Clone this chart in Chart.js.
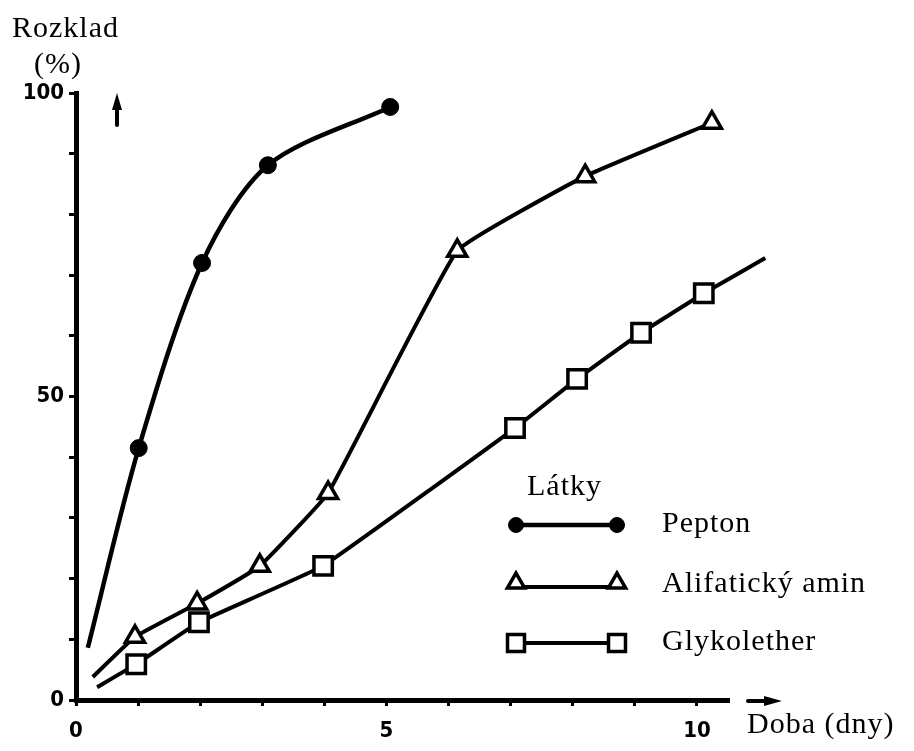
<!DOCTYPE html>
<html>
<head>
<meta charset="utf-8">
<script src="https://cdn.jsdelivr.net/npm/chart.js@4/dist/chart.umd.min.js"></script>
<style>
  html, body { margin: 0; padding: 0; background: #fff; }
  #wrap { position: relative; width: 914px; height: 751px; }
  .t {
    position: absolute;
    font-family: "Liberation Serif", "Times New Roman", serif;
    font-size: 30px;
    line-height: 30px;
    letter-spacing: 1px;
    color: #000;
    white-space: nowrap;
  }
</style>
</head>
<body>
<div id="wrap">
  <canvas id="chart" width="914" height="751"></canvas>
  <div class="t" id="yTitle1" style="left:12px; top:12px;"></div>
  <div class="t" id="yTitle2" style="left:34px; top:48px;"></div>
  <div class="t" id="xTitle" style="left:747px; top:708px;"></div>
  <div class="t" id="legTitle" style="left:527px; top:470px;"></div>
  <div class="t" id="leg0" style="left:662px; top:507px;"></div>
  <div class="t" id="leg1" style="left:662px; top:567px;"></div>
  <div class="t" id="leg2" style="left:662px; top:625px;"></div>
</div>
<script>
// values (x = days, y = % decomposed)
const peptonX = [0.19, 1.01, 2.03, 3.09, 5.06];
const peptonY = [8.6, 41.5, 72.0, 88.1, 97.7];
const aminX = [0.27, 0.95, 1.95, 2.96, 4.06, 6.14, 8.2, 10.24];
const aminY = [3.8, 10.4, 15.9, 22.1, 34.1, 74.0, 86.3, 95.1];
const glykoX = [0.34, 0.97, 1.98, 3.98, 7.07, 8.07, 9.1, 10.11, 11.1];
const glykoY = [2.1, 5.9, 12.8, 22.1, 44.8, 52.9, 60.5, 67.0, 72.8];

const seriesNames = ['Pepton', 'Alifatický amin', 'Glykolether'];
const xTicks = [0, 1, 2, 3, 4, 5, 6, 7, 8, 9, 10];
const xLabelled = [0, 5, 10];
const yTicks = [0, 10, 20, 30, 40, 50, 60, 70, 80, 90, 100];
const yLabelled = [0, 50, 100];

const yTitle = ['Rozklad', '(%)'];
const xTitle = 'Doba (dny)';
const legendTitle = 'Látky';

document.getElementById('yTitle1').textContent = yTitle[0];
document.getElementById('yTitle2').textContent = yTitle[1];
document.getElementById('xTitle').textContent = xTitle;
document.getElementById('legTitle').textContent = legendTitle;
seriesNames.forEach((n, i) => { document.getElementById('leg' + i).textContent = n; });

const toPoints = (xs, ys) => xs.map((x, i) => ({ x: x, y: ys[i] }));
const tickFont = { family: '"DejaVu Sans Condensed", "DejaVu Sans", sans-serif', size: 22, weight: 'bold' };

// legend markers
function marker(ctx, ds, x, y) {
  ctx.save();
  ctx.fillStyle = ds.pointBackgroundColor;
  ctx.strokeStyle = '#000';
  ctx.lineWidth = ds.pointBorderWidth;
  const r = ds.legendRadius;
  ctx.beginPath();
  if (ds.pointStyle === 'circle') {
    ctx.arc(x, y, r, 0, Math.PI * 2);
  } else if (ds.pointStyle === 'triangle') {
    for (let k = 0; k < 3; k++) {
      const a = k * 2 * Math.PI / 3;
      const px = x + Math.sin(a) * r, py = y - Math.cos(a) * r;
      if (k === 0) ctx.moveTo(px, py); else ctx.lineTo(px, py);
    }
    ctx.closePath();
  } else {
    const h = r * Math.SQRT1_2;
    ctx.rect(x - h, y - h, 2 * h, 2 * h);
  }
  ctx.fill();
  ctx.stroke();
  ctx.restore();
}

const decorations = {
  id: 'decorations',
  afterDraw(chart) {
    const ctx = chart.ctx;
    ctx.save();
    ctx.fillStyle = '#000';

    // legend symbols
    const rows = [525, 583, 643];
    chart.data.datasets.forEach((ds, i) => {
      const y = rows[i];
      const ly = y + (ds.pointStyle === 'triangle' ? 4 : 0);
      ctx.save();
      ctx.strokeStyle = '#000';
      ctx.lineWidth = ds.borderWidth;
      ctx.beginPath();
      ctx.moveTo(516, ly);
      ctx.lineTo(617, ly);
      ctx.stroke();
      ctx.restore();
      marker(ctx, ds, 516, y);
      marker(ctx, ds, 617, y);
    });

    // arrows next to the axes
    ctx.strokeStyle = '#000';
    ctx.lineWidth = 4;
    ctx.lineCap = 'round';
    ctx.beginPath();
    ctx.moveTo(117, 125);
    ctx.lineTo(117, 104);
    ctx.stroke();
    ctx.beginPath();
    ctx.moveTo(117, 93);
    ctx.lineTo(112, 110);
    ctx.lineTo(122, 110);
    ctx.closePath();
    ctx.fill();

    ctx.beginPath();
    ctx.moveTo(748, 701);
    ctx.lineTo(770, 701);
    ctx.stroke();
    ctx.beginPath();
    ctx.moveTo(782, 701);
    ctx.lineTo(764, 696);
    ctx.lineTo(764, 706);
    ctx.closePath();
    ctx.fill();
    ctx.restore();
  }
};

const ctx = document.getElementById('chart').getContext('2d');
const myChart = new Chart(ctx, {
  type: 'line',
  data: {
    datasets: [{
      label: seriesNames[0],
      data: toPoints(peptonX, peptonY),
      borderColor: '#000',
      borderWidth: 4.5,
      tension: 0.3,
      pointStyle: 'circle',
      pointRadius: c => (c.dataIndex === 0 ? 0 : 8.5),
      pointBackgroundColor: '#000',
      pointBorderColor: '#000',
      pointBorderWidth: 1,
      legendRadius: 7.5
    }, {
      label: seriesNames[1],
      data: toPoints(aminX, aminY),
      borderColor: '#000',
      borderWidth: 4,
      tension: 0.1,
      pointStyle: 'triangle',
      pointRadius: c => (c.dataIndex === 0 ? 0 : 11),
      pointBackgroundColor: '#fff',
      pointBorderColor: '#000',
      pointBorderWidth: 3.5,
      legendRadius: 10
    }, {
      label: seriesNames[2],
      data: toPoints(glykoX, glykoY),
      borderColor: '#000',
      borderWidth: 4,
      tension: 0.08,
      clip: false,
      pointStyle: 'rect',
      pointRadius: c => (c.dataIndex === 0 || c.dataIndex === glykoX.length - 1 ? 0 : 13),
      pointBackgroundColor: '#fff',
      pointBorderColor: '#000',
      pointBorderWidth: 3.5,
      legendRadius: 12
    }]
  },
  options: {
    responsive: false,
    animation: false,
    events: [],
    layout: { padding: { top: 93, right: 186, left: 0, bottom: 0 } },
    plugins: { legend: { display: false }, tooltip: { enabled: false } },
    scales: {
      x: {
        type: 'linear',
        min: 0,
        max: 10.5,
        afterBuildTicks: s => { s.ticks = xTicks.map(v => ({ value: v })); },
        afterFit: s => { s.height = 51; },
        border: { color: '#000', width: 5 },
        grid: { drawOnChartArea: false, color: '#000', lineWidth: 3, tickLength: 6 },
        ticks: {
          autoSkip: false,
          maxRotation: 0,
          color: '#000',
          font: tickFont,
          padding: 12,
          callback: v => (xLabelled.includes(v) ? String(v) : '')
        }
      },
      y: {
        min: 0,
        max: 100,
        afterBuildTicks: s => { s.ticks = yTicks.map(v => ({ value: v })); },
        afterFit: s => { s.width = 76; },
        border: { color: '#000', width: 5 },
        grid: { drawOnChartArea: false, color: '#000', lineWidth: 3, tickLength: 7 },
        ticks: {
          autoSkip: false,
          color: '#000',
          font: tickFont,
          padding: 5,
          callback: v => (yLabelled.includes(v) ? String(v) : '')
        }
      }
    }
  },
  plugins: [decorations]
});
</script>
</body>
</html>
